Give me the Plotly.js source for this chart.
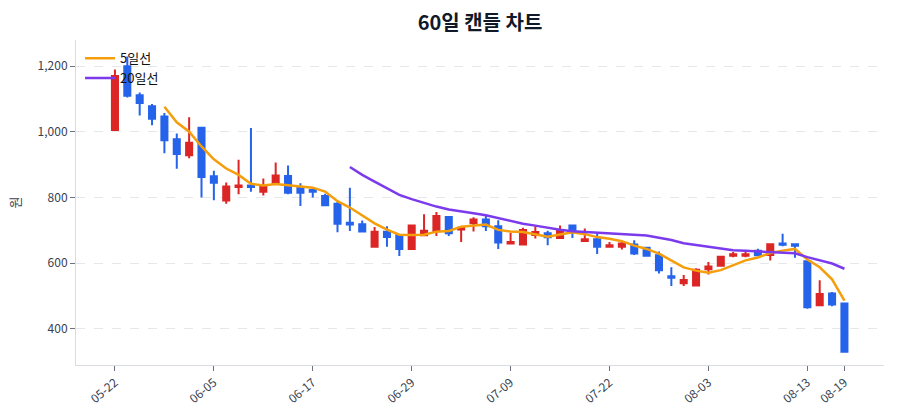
<!DOCTYPE html>
<html>
<head>
<meta charset="utf-8">
<script src="https://cdn.plot.ly/plotly-3.0.1.min.js"></script>
<style>
  html, body { margin: 0; padding: 0; background: #fff; }
  #chart { width: 900px; height: 420px; }
</style>
</head>
<body>
<div id="chart"></div>
<script>
// Trading days (MM-DD)
const dates = [
    '05-22', '05-23', '05-26', '05-27', '05-28', '05-29', '05-30', '06-02',
    '06-05', '06-09', '06-10', '06-11', '06-12', '06-13', '06-14', '06-16',
    '06-17', '06-18', '06-19', '06-20', '06-23', '06-24', '06-25', '06-26',
    '06-29', '06-30', '07-01', '07-02', '07-03', '07-04', '07-07', '07-08',
    '07-09', '07-10', '07-11', '07-14', '07-15', '07-16', '07-17', '07-18',
    '07-22', '07-23', '07-24', '07-25', '07-28', '07-29', '07-30', '07-31',
    '08-03', '08-04', '08-05', '08-06', '08-07', '08-08', '08-11', '08-12',
    '08-13', '08-14', '08-18', '08-19'
];

// OHLC values (원)
const opens = [
    1006, 1200, 1112, 1078, 1047, 978, 929, 1013, 865, 791,
    832, 837, 818, 845, 866, 830, 823, 805, 781, 723,
    719, 650, 696, 686, 643, 685, 698, 741, 703, 722,
    733, 713, 660, 657, 686, 691, 677, 715, 668, 673,
    650, 650, 657, 647, 624, 560, 539, 532, 582, 592,
    623, 623, 638, 625, 660, 658, 606, 472, 508, 477
];
const highs = [
    1190, 1230, 1120, 1085, 1058, 995, 1045, 1014, 882, 846,
    915, 1012, 858, 907, 898, 844, 831, 812, 787, 830,
    730, 710, 713, 688, 716, 749, 756, 743, 712, 740,
    745, 731, 693, 708, 713, 699, 715, 716, 706, 691,
    665, 667, 670, 648, 636, 588, 564, 585, 604, 621,
    634, 636, 644, 659, 690, 661, 607, 548, 512, 478
];
const lows = [
    1005, 1105, 1050, 1020, 935, 888, 920, 800, 792, 781,
    810, 818, 806, 843, 810, 774, 800, 776, 694, 698,
    695, 649, 650, 622, 642, 684, 683, 683, 665, 697,
    698, 643, 659, 656, 675, 655, 676, 677, 667, 628,
    649, 642, 625, 622, 569, 531, 531, 531, 566, 591,
    618, 618, 622, 608, 652, 617, 461, 469, 469, 330
];
const closes = [
    1170, 1110, 1088, 1040, 975, 933, 967, 863, 845, 834,
    837, 832, 836, 867, 815, 815, 818, 777, 720, 718,
    697, 696, 680, 643, 715, 699, 744, 691, 708, 733,
    713, 663, 665, 701, 695, 679, 698, 698, 673, 650,
    655, 660, 630, 623, 579, 556, 549, 580, 590, 620,
    627, 627, 624, 658, 656, 653, 466, 506, 474, 330
];

// Tick labels shown on the x axis
const tickDates = ['05-22', '06-05', '06-17', '06-29', '07-09', '07-22', '08-03', '08-13', '08-19'];

const upColor = '#dc2626';
const downColor = '#2563eb';

// Simple moving average of closing prices
function movingAverage(values, n) {
    return values.map(function(v, i) {
        if (i < n - 1) return null;
        let sum = 0;
        for (let k = i - n + 1; k <= i; k++) sum += values[k];
        return sum / n;
    });
}

const candleTrace = {
    type: 'candlestick',
    x: dates,
    open: opens,
    high: highs,
    low: lows,
    close: closes,
    increasing: { line: { color: upColor, width: 2 }, fillcolor: upColor },
    decreasing: { line: { color: downColor, width: 2 }, fillcolor: downColor },
    showlegend: false,
    name: '캔들'
};

const ma5Trace = {
    type: 'scatter',
    mode: 'lines',
    x: dates,
    y: movingAverage(closes, 5),
    name: '5일선',
    line: { color: '#f59e0b', width: 2.5 }
};

const ma20Trace = {
    type: 'scatter',
    mode: 'lines',
    x: dates,
    y: movingAverage(closes, 20),
    name: '20일선',
    line: { color: '#7c3aed', width: 2.5 }
};

const layout = {
    width: 900,
    height: 420,
    font: { family: '"Noto Sans CJK KR", "Noto Sans", sans-serif', size: 12, color: '#374151' },
    title: {
        text: '<b>60일 캔들 차트</b>',
        xref: 'paper',
        x: 0.5,
        xanchor: 'center',
        y: 0.945,
        yanchor: 'middle',
        font: { size: 20, color: '#111827' }
    },
    margin: { l: 76, r: 16, t: 40, b: 55 },
    paper_bgcolor: 'white',
    plot_bgcolor: 'white',
    showlegend: true,
    legend: {
        x: 0.005,
        y: 0.99,
        xanchor: 'left',
        yanchor: 'top',
        bgcolor: 'rgba(0,0,0,0)',
        font: { size: 13, color: '#111' }
    },
    xaxis: {
        type: 'category',
        range: [-3.15, 62.2],
        tickvals: tickDates,
        ticktext: tickDates,
        tickangle: -40,
        ticks: 'outside',
        ticklen: 5,
        tickcolor: '#6b7280',
        showgrid: false,
        showline: true,
        linecolor: '#d9dde3',
        linewidth: 1,
        rangeslider: { visible: false },
        tickfont: { size: 12, color: '#374151' }
    },
    yaxis: {
        title: { text: '원', font: { size: 13, color: '#374151' }, standoff: 14 },
        automargin: false,
        range: [290, 1280],
        tickvals: [400, 600, 800, 1000, 1200],
        tickformat: ',',
        ticks: 'outside',
        ticklen: 5,
        tickcolor: '#6b7280',
        showgrid: true,
        gridcolor: '#e5e7eb',
        griddash: 'dash',
        zeroline: false,
        showline: true,
        linecolor: '#d9dde3',
        linewidth: 1,
        tickfont: { size: 12, color: '#374151' }
    }
};

Plotly.newPlot('chart', [candleTrace, ma5Trace, ma20Trace], layout, {
    displayModeBar: false,
    responsive: false
});
</script>
</body>
</html>
